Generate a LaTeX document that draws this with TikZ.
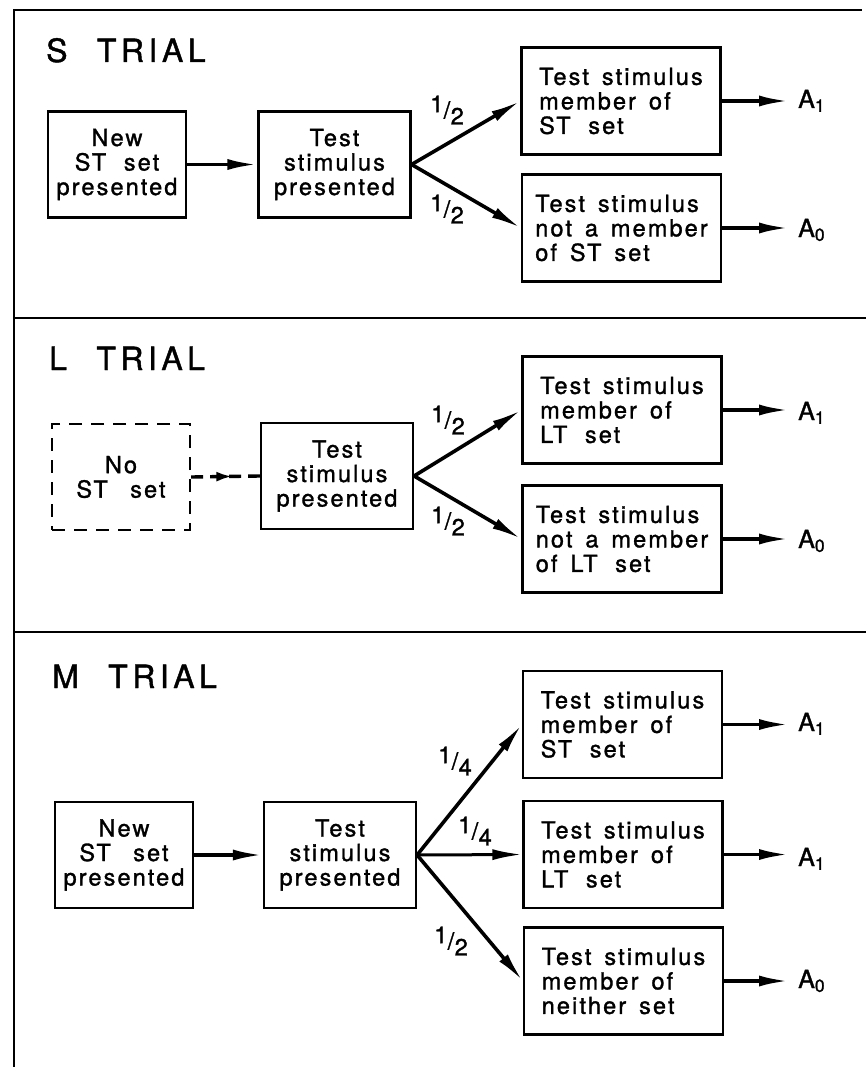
\documentclass[tikz,border=0pt]{standalone}
\usepackage{fontspec}
\setmainfont{TeX Gyre Heros}
\newfontfamily\lblfont[LetterSpace=9,WordSpace=1.5,FakeBold=1.3]{TeX Gyre Heros}
\newfontfamily\ttlfont[LetterSpace=14,WordSpace=2.2,FakeBold=1.3]{TeX Gyre Heros}
\usetikzlibrary{arrows.meta,decorations.markings}
\newcommand{\frc}[2]{\raisebox{0.5ex}{#1}\kern0.02em/\kern0.02em\raisebox{-0.5ex}{#2}}
\begin{document}
\begin{tikzpicture}[x=1pt,y=-1pt,
  txt/.style={font=\lblfont\fontsize{23.5}{24.5}\selectfont},
  box/.style={txt,draw,line width=2.2pt,rectangle,inner sep=0pt},
  lbox/.style={box,minimum width=138pt,minimum height=106pt,align=center},
  tbox/.style={box,minimum width=152pt,minimum height=106pt,align=center},
  rbox/.style={box,minimum width=199pt,minimum height=107pt,align=left},
  dbox/.style={lbox,dash pattern=on 13pt off 9pt},
  arr/.style={line width=3.6pt,-{Latex[length=30pt,width=11pt]}},
  oarr/.style={arr,shorten >=9pt},
  fr/.style={txt,inner sep=0pt},
  alab/.style={font=\lblfont\fontsize{25}{26}\selectfont,inner sep=0pt,anchor=base west},
  ttl/.style={font=\ttlfont\fontsize{32}{34}\selectfont,inner sep=0pt,anchor=base west},
  frame/.style={line width=2.4pt}
]
\useasboundingbox (0,0) rectangle (866,1067);
% frame
\draw[frame] (14,1067) -- (14,10) -- (862,10);
\draw[frame] (14,318) -- (866,318);
\draw[frame] (14,632) -- (866,632);

% ---------- S trial ----------
\node[ttl] (ts) at (46,62) {S TRIAL};
\node[lbox] (n1) at (117,164.5) {New\\ST\hspace{0.2em} set\\presented};
\node[tbox] (t1) at (334.5,164.5) {Test\\stimulus\\presented};
\node[rbox] (u1) at (621,101) {Test stimulus\\member of\\ST\hspace{0.2em} set};
\node[rbox] (l1) at (621.5,228) {Test stimulus\\not a member\\of ST set};
\node[alab] (a11) at (798,108) {A\textsubscript{1}};
\node[alab] (a10) at (798,237) {A\textsubscript{0}};
\node[fr] (f11) at (447,110) {\frc12};
\node[fr] (f12) at (447,209) {\frc12};
\draw[arr] (n1.east) -- (t1.west);
\draw[arr] (t1.east) -- (u1.west);
\draw[arr] (t1.east) -- (l1.west);
\draw[oarr] (u1.east) -- (u1.east -| a11.west);
\draw[oarr] (l1.east) -- (l1.east -| a10.west);

% ---------- L trial ----------
\node[ttl] (tl) at (49,370) {L TRIAL};
\node[dbox] (n2) at (121,477) {No\\ST\hspace{0.4em} set};
\node[tbox] (t2) at (337,476) {Test\\stimulus\\presented};
\node[rbox] (u2) at (622,410) {Test stimulus\\member of\\LT\hspace{0.2em} set};
\node[rbox] (l2) at (622,539) {Test stimulus\\not a member\\of LT\hspace{0.2em} set};
\node[alab] (a21) at (798,420) {A\textsubscript{1}};
\node[alab] (a20) at (798,548) {A\textsubscript{0}};
\node[fr] (f21) at (448,420) {\frc12};
\node[fr] (f22) at (448,521) {\frc12};
\draw[line width=3.4pt,dash pattern=on 12pt off 7pt,
      postaction={decorate},
      decoration={markings,mark=at position 0.6 with {\arrow{Latex[length=16pt,width=10pt]}}}]
      (n2.east) -- (t2.west);
\draw[arr] (t2.east) -- (u2.west);
\draw[arr] (t2.east) -- (l2.west);
\draw[oarr] (u2.east) -- (u2.east -| a21.west);
\draw[oarr] (l2.east) -- (l2.east -| a20.west);

% ---------- M trial ----------
\node[ttl] (tm) at (52,688) {M TRIAL};
\node[lbox] (n3) at (124,855) {New\\ST\hspace{0.4em} set\\presented};
\node[tbox] (t3) at (340,855) {Test\\stimulus\\presented};
\node[rbox] (u3) at (622.5,724.5) {Test stimulus\\member of\\ST\hspace{0.2em} set};
\node[rbox] (m3) at (623,854.5) {Test stimulus\\member of\\LT\hspace{0.2em} set};
\node[rbox] (b3) at (623.5,981) {Test stimulus\\member of\\neither set};
\node[alab] (a31) at (798,731) {A\textsubscript{1}};
\node[alab] (a32) at (798,866) {A\textsubscript{1}};
\node[alab] (a30) at (798,988) {A\textsubscript{0}};
\node[fr] (f31) at (455,761) {\frc14};
\node[fr] (f32) at (475,831) {\frc14};
\node[fr] (f33) at (451,941) {\frc12};
\draw[arr] (n3.east) -- (t3.west);
\draw[arr] (t3.east) -- (u3.west);
\draw[arr,line width=3pt] (t3.east) -- (m3.west);
\draw[arr] (t3.east) -- (b3.west);
\draw[oarr] (u3.east) -- (u3.east -| a31.west);
\draw[oarr] (m3.east) -- (m3.east -| a32.west);
\draw[oarr] (b3.east) -- (b3.east -| a30.west);
\end{tikzpicture}
\end{document}
